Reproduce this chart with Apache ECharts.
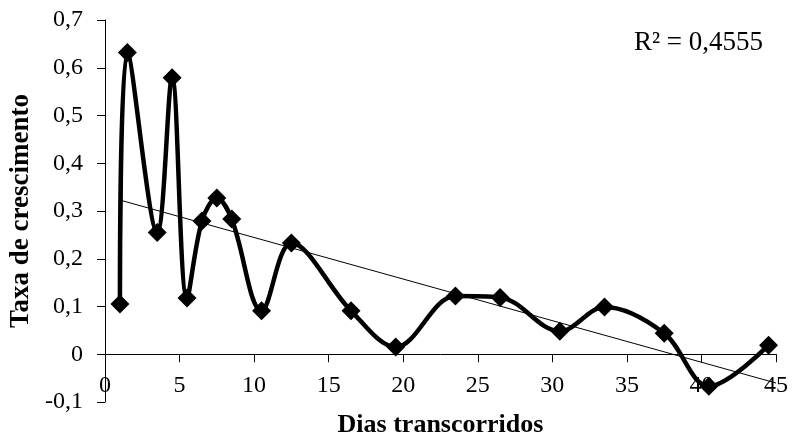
<!DOCTYPE html>
<html>
<head>
<meta charset="utf-8">
<script src="https://cdn.jsdelivr.net/npm/echarts@6/dist/echarts.min.js"></script>
<style>
  html, body { margin: 0; padding: 0; background: #fff; }
  #chart { width: 793px; height: 438px; }
</style>
</head>
<body>
<div id="chart"></div>
<script>
// dias transcorridos (eixo x) e taxa de crescimento (eixo y)
var dias = [1, 1.5, 3.5, 4.5, 5.5, 6.5, 7.5, 8.5, 10.5, 12.5, 16.5, 19.5, 23.5, 26.5, 30.5, 33.5, 37.5, 40.5, 44.5];
var taxa = [0.105, 0.632, 0.255, 0.579, 0.118, 0.279, 0.327, 0.283, 0.091, 0.233, 0.091, 0.015, 0.122, 0.119, 0.048, 0.099, 0.044, -0.067, 0.019];
var r2Label = 'R² = 0,4555';

var serif = '"Liberation Serif", "DejaVu Serif", serif';

// linha de tendência (mínimos quadrados) a partir dos dados
var n = dias.length, sx = 0, sy = 0, sxx = 0, sxy = 0;
for (var i = 0; i < n; i++) {
  sx += dias[i]; sy += taxa[i];
  sxx += dias[i] * dias[i]; sxy += dias[i] * taxa[i];
}
var slope = (n * sxy - sx * sy) / (n * sxx - sx * sx);
var intercept = (sy - slope * sx) / n;
var x0 = dias[0], x1 = 45;
var trend = [[x0, intercept + slope * x0], [x1, intercept + slope * x1]];

var pontos = dias.map(function (d, i) { return [d, taxa[i]]; });

var chart = echarts.init(document.getElementById('chart'));
chart.setOption({
  animation: false,
  grid: { left: 105, right: 17, top: 20, bottom: 36, containLabel: false, outerBoundsMode: 'none' },
  xAxis: {
    type: 'value',
    min: 0, max: 45, interval: 5,
    name: 'Dias transcorridos',
    nameLocation: 'middle',
    nameGap: 10,
    nameTextStyle: { fontFamily: serif, fontSize: 26, fontWeight: 'bold', color: '#000' },
    axisLine: { onZero: true, lineStyle: { color: '#000', width: 1 } },
    axisTick: { show: true, length: 8, lineStyle: { color: '#000' } },
    axisLabel: { margin: -28, fontFamily: serif, fontSize: 24, color: '#000' },
    splitLine: { show: false }
  },
  yAxis: {
    type: 'value',
    min: -0.1, max: 0.7, interval: 0.1,
    name: 'Taxa de crescimento',
    nameLocation: 'middle',
    nameGap: 70,
    nameTextStyle: { fontFamily: serif, fontSize: 27, fontWeight: 'bold', color: '#000' },
    axisLine: { show: true, lineStyle: { color: '#000', width: 1 } },
    axisTick: { show: true, length: 8, lineStyle: { color: '#000' } },
    axisLabel: {
      margin: 22, fontFamily: serif, fontSize: 24, color: '#000',
      formatter: function (v) { return (Math.round(v * 10) / 10).toString().replace('.', ','); }
    },
    splitLine: { show: false }
  },
  graphic: [{
    type: 'text',
    right: 30, top: 29,
    style: { text: r2Label, font: '27px ' + serif, fill: '#000' }
  }],
  series: [
    {
      type: 'line',
      data: trend,
      symbol: 'none',
      lineStyle: { color: '#000', width: 1 },
      z: 1
    },
    {
      type: 'line',
      data: pontos,
      smooth: 0.35,
      symbol: 'diamond',
      symbolSize: 19,
      itemStyle: { color: '#000' },
      lineStyle: { color: '#000', width: 4.5 },
      z: 2
    }
  ]
});
</script>
</body>
</html>
